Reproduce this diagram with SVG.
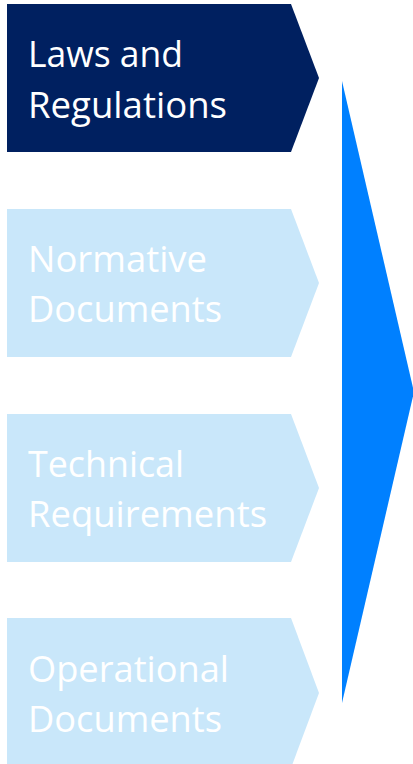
<svg xmlns="http://www.w3.org/2000/svg" width="413" height="764" viewBox="0 0 413 764">
<style>
.lbl{font-family:"Open Sans","Noto Sans","Liberation Sans",sans-serif;font-size:37px;fill:#ffffff}
.dark{fill:#002060}
.light{fill:#C9E7FA}
</style>
<rect width="413" height="764" fill="#ffffff"/>
<g id="connectors">
<polygon points="342,81 414,392 342,703" fill="#0080FF"/>
</g>
<g id="node-laws">
<polygon class="dark" points="7,4 291,4 319,78 291,152 7,152"/>
<text class="lbl" x="28" y="67" textLength="155" lengthAdjust="spacingAndGlyphs">Laws and</text>
<text class="lbl" x="28" y="118" textLength="199" lengthAdjust="spacingAndGlyphs">Regulations</text>
</g>
<g id="node-normative">
<polygon class="light" points="7,209 291,209 319,283 291,357 7,357"/>
<text class="lbl" x="28" y="272" textLength="179" lengthAdjust="spacingAndGlyphs">Normative</text>
<text class="lbl" x="28" y="322" textLength="194" lengthAdjust="spacingAndGlyphs">Documents</text>
</g>
<g id="node-technical">
<polygon class="light" points="7,414 291,414 319,488 291,562 7,562"/>
<text class="lbl" x="28" y="477" textLength="156" lengthAdjust="spacingAndGlyphs">Technical</text>
<text class="lbl" x="28" y="527" textLength="239" lengthAdjust="spacingAndGlyphs">Requirements</text>
</g>
<g id="node-operational">
<polygon class="light" points="7,618 291,618 319,693 291,768 7,768"/>
<text class="lbl" x="28" y="682" textLength="201" lengthAdjust="spacingAndGlyphs">Operational</text>
<text class="lbl" x="28" y="732" textLength="194" lengthAdjust="spacingAndGlyphs">Documents</text>
</g>
</svg>
